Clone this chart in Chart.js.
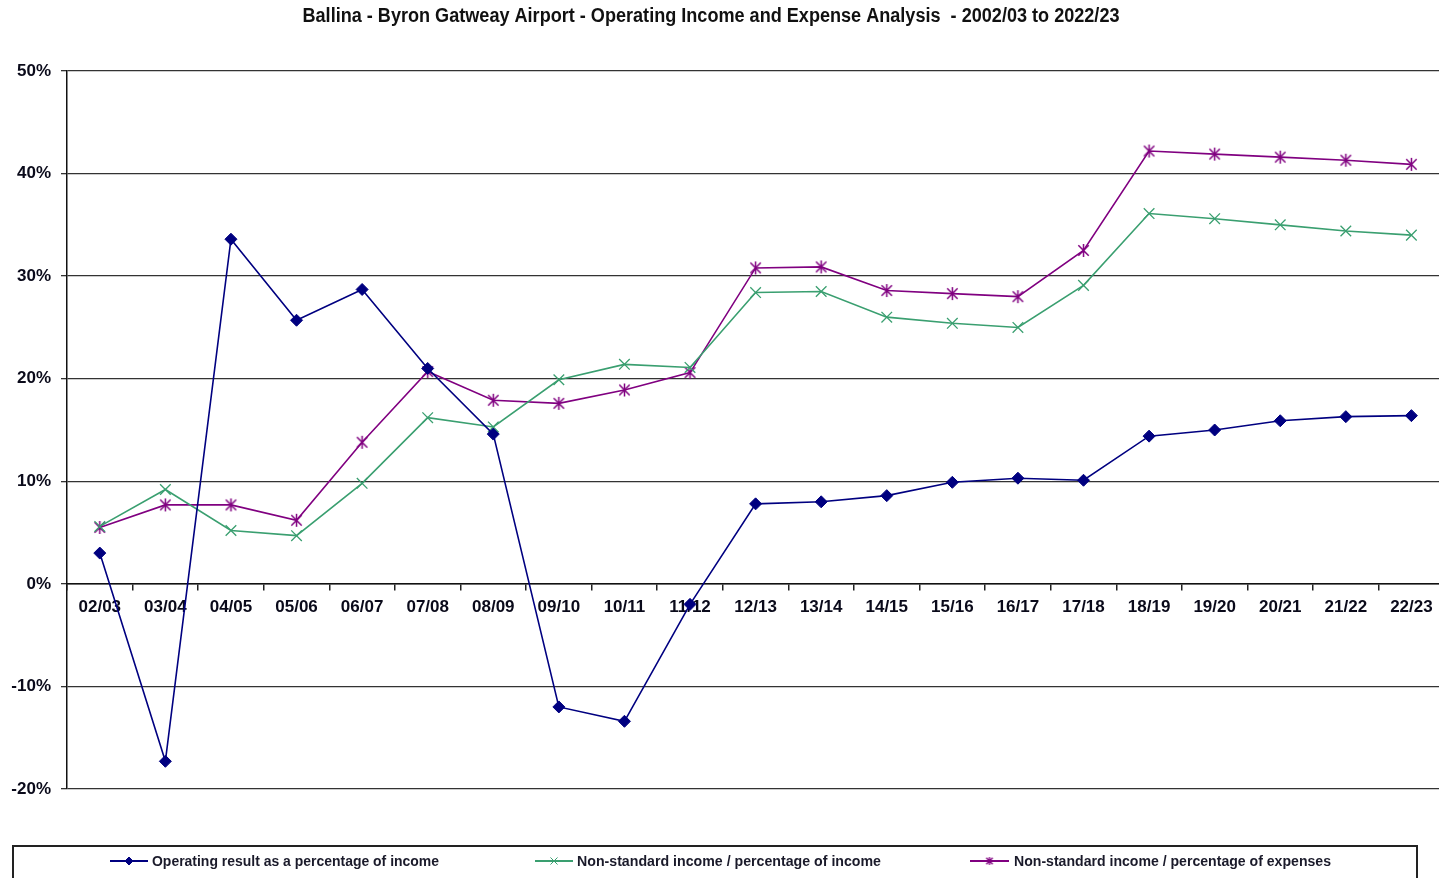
<!DOCTYPE html>
<html>
<head>
<meta charset="utf-8">
<title>Ballina - Byron Gatweay Airport - Operating Income and Expense Analysis</title>
<script src="https://cdn.jsdelivr.net/npm/chart.js@4/dist/chart.umd.min.js"></script>
<style>
  html, body { margin: 0; padding: 0; background: #fff; overflow: hidden; width: 1439px; height: 878px; }
  #wrap { position: absolute; left: 0; top: 0; width: 1453px; height: 878px; }
</style>
</head>
<body>
<div id="wrap"><canvas id="chart" width="1453" height="878"></canvas></div>
<script>
// Financial years
const years = ['02/03','03/04','04/05','05/06','06/07','07/08','08/09','09/10','10/11','11/12','12/13',
               '13/14','14/15','15/16','16/17','17/18','18/19','19/20','20/21','21/22','22/23'];

// Operating result as a percentage of income (%)
const operatingResult = [3.0, -17.3, 33.6, 25.7, 28.7, 21.0, 14.6, -12.0, -13.4, -2.0, 7.8,
                         8.0, 8.6, 9.9, 10.3, 10.1, 14.4, 15.0, 15.9, 16.3, 16.4];

// Non-standard income / percentage of income (%)
const nonStdIncome = [5.6, 9.2, 5.2, 4.7, 9.8, 16.2, 15.3, 19.9, 21.4, 21.1, 28.4,
                      28.5, 26.0, 25.4, 25.0, 29.1, 36.1, 35.6, 35.0, 34.4, 34.0];

// Non-standard income / percentage of expenses (%)
const nonStdExpenses = [5.5, 7.7, 7.7, 6.2, 13.8, 20.7, 17.9, 17.6, 18.9, 20.6, 30.8,
                        30.9, 28.6, 28.3, 28.0, 32.5, 42.2, 41.9, 41.6, 41.3, 40.9];

const yTicks = [-20, -10, 0, 10, 20, 30, 40, 50];

const titleText = 'Ballina - Byron Gatweay Airport - Operating Income and Expense Analysis  - 2002/03 to 2022/23';
const seriesNames = [
  'Operating result as a percentage of income',
  'Non-standard income / percentage of income',
  'Non-standard income / percentage of expenses'
];

const NAVY = '#000080';
const GREEN = '#3a9f70';
const PURPLE = '#800080';

// Asterisk marker: an X with a vertical stroke through it
function makeStar(size, color, lw) {
  const c = document.createElement('canvas');
  c.width = size; c.height = size;
  const g = c.getContext('2d');
  const m = size / 2, r = size / 2 - 1;
  g.strokeStyle = color;
  g.lineWidth = lw;
  g.beginPath();
  g.moveTo(m - r * 0.8, m - r * 0.8); g.lineTo(m + r * 0.8, m + r * 0.8);
  g.moveTo(m + r * 0.8, m - r * 0.8); g.lineTo(m - r * 0.8, m + r * 0.8);
  g.moveTo(m, m - r); g.lineTo(m, m + r);
  g.stroke();
  return c;
}
const starMarker = makeStar(15, PURPLE, 1.5);
const starMarkerSmall = makeStar(10, PURPLE, 1.3);

// Title drawn above the plot area
const titlePlugin = {
  id: 'titleLine',
  afterDraw(chart) {
    const ctx = chart.ctx;
    ctx.save();
    ctx.font = 'bold 20px "Liberation Sans", Arial, sans-serif';
    ctx.fillStyle = '#111';
    ctx.textAlign = 'center';
    ctx.textBaseline = 'middle';
    ctx.fillText(titleText, 711, 16, 817);
    ctx.restore();
  }
};

// Boxed legend along the bottom
const boxLegend = {
  id: 'boxLegend',
  afterDraw(chart) {
    const ctx = chart.ctx;
    ctx.save();
    ctx.strokeStyle = '#222';
    ctx.lineWidth = 2;
    ctx.strokeRect(13, 846, 1404, 60);
    const items = [
      { x0: 110, x1: 148, tx: 152, tw: 287 },
      { x0: 535, x1: 573, tx: 577, tw: 304 },
      { x0: 970, x1: 1009, tx: 1014, tw: 317 }
    ];
    const y = 861;
    chart.data.datasets.forEach((ds, i) => {
      const it = items[i];
      ctx.strokeStyle = ds.borderColor;
      ctx.lineWidth = 2;
      ctx.beginPath();
      ctx.moveTo(it.x0, y); ctx.lineTo(it.x1, y);
      ctx.stroke();
      const cx = (it.x0 + it.x1) / 2;
      if (i === 2) {
        ctx.drawImage(starMarkerSmall, cx - 5, y - 5);
      } else {
        ctx.fillStyle = ds.pointBackgroundColor;
        ctx.strokeStyle = ds.pointBorderColor;
        ctx.lineWidth = 1;
        Chart.helpers.drawPoint(ctx, { pointStyle: ds.pointStyle, radius: i === 1 ? 5 : 4, rotation: 0, borderWidth: 1 }, cx, y);
      }
      ctx.font = 'bold 15px "Liberation Sans", Arial, sans-serif';
      ctx.fillStyle = '#1a1a2a';
      ctx.textAlign = 'left';
      ctx.textBaseline = 'middle';
      ctx.fillText(ds.label, it.tx, y + 1, it.tw);
    });
    ctx.restore();
  }
};

new Chart(document.getElementById('chart'), {
  type: 'line',
  data: {
    labels: years,
    datasets: [
      {
        label: seriesNames[0],
        data: operatingResult,
        borderColor: NAVY,
        borderWidth: 1.6,
        pointStyle: 'rectRot',
        pointRadius: 6,
        pointBackgroundColor: NAVY,
        pointBorderColor: NAVY,
        pointBorderWidth: 1,
        tension: 0
      },
      {
        label: seriesNames[1],
        data: nonStdIncome,
        borderColor: GREEN,
        borderWidth: 1.6,
        pointStyle: 'crossRot',
        pointRadius: 7.5,
        pointBackgroundColor: GREEN,
        pointBorderColor: GREEN,
        pointBorderWidth: 1.3,
        tension: 0
      },
      {
        label: seriesNames[2],
        data: nonStdExpenses,
        borderColor: PURPLE,
        borderWidth: 1.6,
        pointStyle: starMarker,
        pointRadius: 7,
        pointBackgroundColor: PURPLE,
        pointBorderColor: PURPLE,
        tension: 0
      }
    ]
  },
  options: {
    responsive: false,
    animation: false,
    devicePixelRatio: 1,
    layout: { padding: { left: 0, top: 71, right: 0, bottom: 89 } },
    plugins: {
      legend: { display: false },
      title: { display: false },
      tooltip: { enabled: false }
    },
    scales: {
      x: {
        position: { y: 0 },
        offset: true,
        grid: {
          offset: true,
          drawOnChartArea: false,
          drawTicks: true,
          tickLength: 6,
          color: '#222',
          lineWidth: 1.5
        },
        border: { display: true, color: '#111', width: 1.5 },
        ticks: {
          autoSkip: false,
          maxRotation: 0,
          padding: 7,
          color: '#0a0a1a',
          font: { family: '"Liberation Sans", Arial, sans-serif', size: 17, weight: 'bold' }
        }
      },
      y: {
        min: yTicks[0],
        max: yTicks[yTicks.length - 1],
        afterBuildTicks(scale) {
          scale.ticks = yTicks.map(v => ({ value: v }));
        },
        afterFit(scale) { scale.width = 67; },
        grid: {
          color: '#333',
          lineWidth: 1.3,
          drawTicks: true,
          tickLength: 6
        },
        border: { display: true, color: '#111', width: 1.5 },
        ticks: {
          padding: 10,
          color: '#0a0a1a',
          font: { family: '"Liberation Sans", Arial, sans-serif', size: 17, weight: 'bold' },
          callback: v => v + '%'
        }
      }
    }
  },
  plugins: [titlePlugin, boxLegend]
});
</script>
</body>
</html>
